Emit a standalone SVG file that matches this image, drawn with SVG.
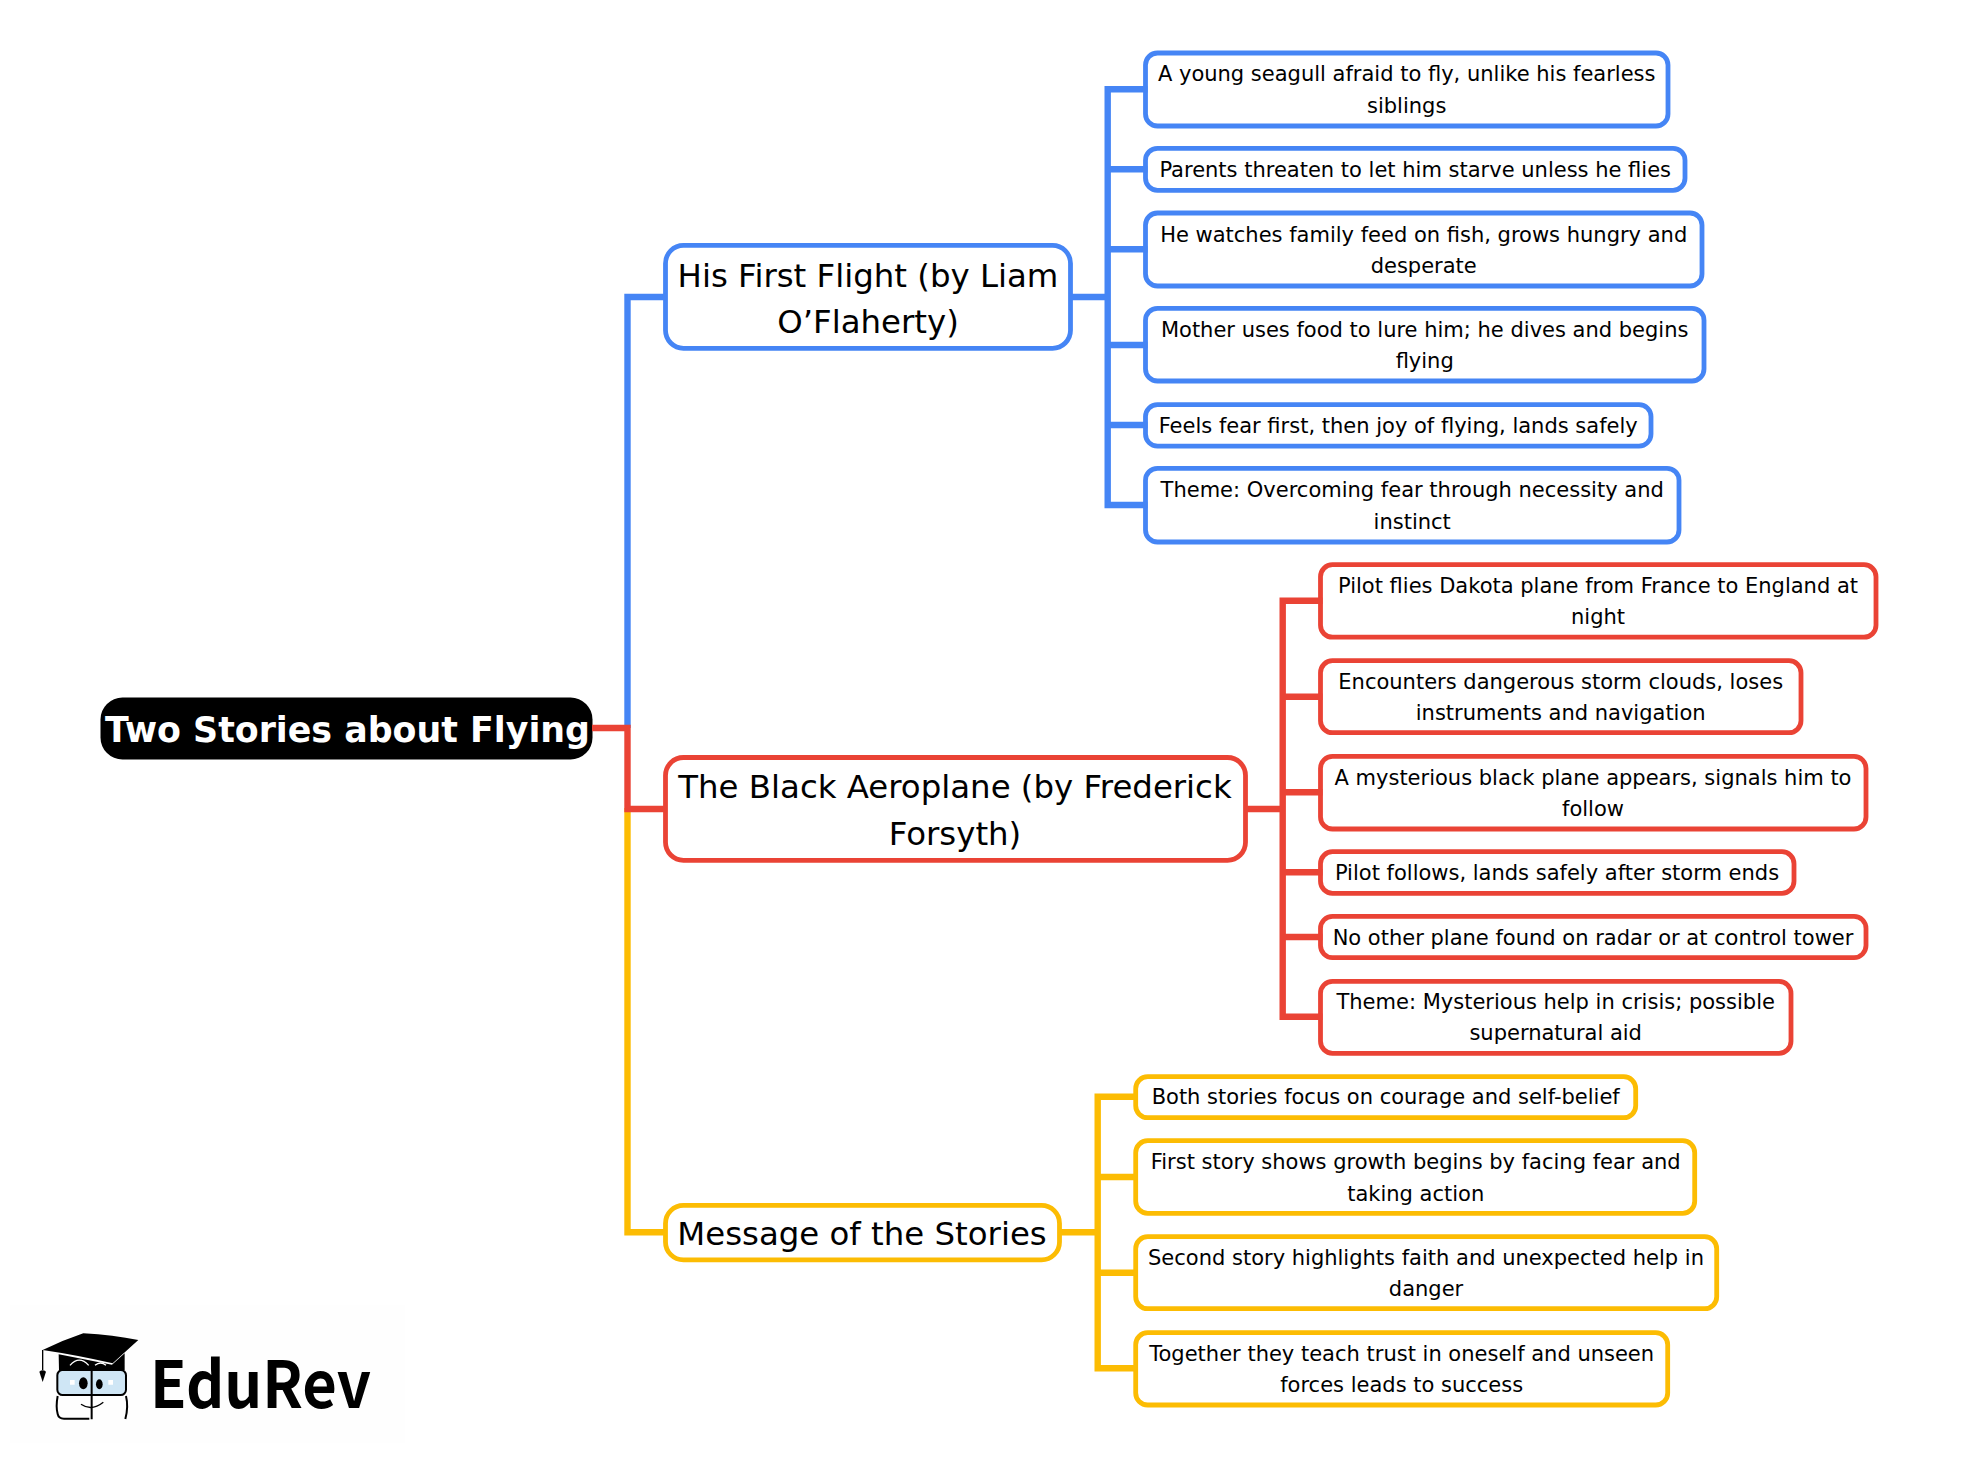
<svg xmlns="http://www.w3.org/2000/svg" width="1979" height="1458" viewBox="0 0 1979 1458">
<style>
text{font-family:"DejaVu Sans",sans-serif;fill:#000;text-anchor:middle}
.l{font-size:21px}.b{font-size:32.4px}
.r{font-size:34.8px;font-weight:700;fill:#fff}
rect.n{fill:#fff;stroke-width:4.8}
.bl{stroke:#4585f5}.re{stroke:#ea4335}.ye{stroke:#fcbc03}
#connectors path{fill:none;stroke-width:6.4}
</style>
<rect width="1979" height="1458" fill="#fff"/>
<g id="root"><rect x="100.500" y="697.500" width="492" height="62" rx="22" fill="#000"/><text class="r" x="347.500" y="742">Two Stories about Flying</text></g>
<g id="b1"><rect class="n bl" x="665.500" y="245.400" width="405" height="102.900" rx="18"/><text class="b" x="868" y="286.500">His First Flight (by Liam</text><text class="b" x="868" y="332.500">O’Flaherty)</text></g>
<g id="b2"><rect class="n re" x="665.500" y="757.500" width="580" height="102.800" rx="18"/><text class="b" x="955" y="797.500">The Black Aeroplane (by Frederick</text><text class="b" x="955" y="844.500">Forsyth)</text></g>
<g id="b3"><rect class="n ye" x="665.500" y="1205.400" width="394" height="54.500" rx="18"/><text class="b" x="862" y="1245">Message of the Stories</text></g>

<g id="n1"><rect class="n bl" x="1145.500" y="53" width="522.500" height="73" rx="12"/><text class="l" x="1406.700" y="81">A young seagull afraid to fly, unlike his fearless</text><text class="l" x="1406.700" y="113">siblings</text></g>
<g id="n2"><rect class="n bl" x="1145.500" y="148.300" width="539.500" height="42" rx="12"/><text class="l" x="1415.200" y="177">Parents threaten to let him starve unless he flies</text></g>
<g id="n3"><rect class="n bl" x="1145.500" y="213" width="556.500" height="73" rx="12"/><text class="l" x="1423.700" y="242">He watches family feed on fish, grows hungry and</text><text class="l" x="1423.700" y="273">desperate</text></g>
<g id="n4"><rect class="n bl" x="1145.500" y="308.300" width="558.500" height="72.700" rx="12"/><text class="l" x="1424.700" y="337">Mother uses food to lure him; he dives and begins</text><text class="l" x="1424.700" y="368">flying</text></g>
<g id="n5"><rect class="n bl" x="1145.500" y="404.600" width="505.500" height="41.500" rx="12"/><text class="l" x="1398.200" y="433">Feels fear first, then joy of flying, lands safely</text></g>
<g id="n6"><rect class="n bl" x="1145.500" y="468.300" width="533.500" height="73.700" rx="12"/><text class="l" x="1412.200" y="497">Theme: Overcoming fear through necessity and</text><text class="l" x="1412.200" y="529">instinct</text></g>

<g id="n7"><rect class="n re" x="1320.500" y="564.700" width="555.500" height="72.500" rx="12"/><text class="l" x="1598" y="593">Pilot flies Dakota plane from France to England at</text><text class="l" x="1598" y="624">night</text></g>
<g id="n8"><rect class="n re" x="1320.500" y="660.700" width="480.500" height="72" rx="12"/><text class="l" x="1560.700" y="689">Encounters dangerous storm clouds, loses</text><text class="l" x="1560.700" y="720">instruments and navigation</text></g>
<g id="n9"><rect class="n re" x="1320.500" y="756.400" width="545.500" height="72.600" rx="12"/><text class="l" x="1593" y="785">A mysterious black plane appears, signals him to</text><text class="l" x="1593" y="816">follow</text></g>
<g id="n10"><rect class="n re" x="1320.500" y="851.700" width="473.500" height="41.600" rx="12"/><text class="l" x="1557" y="880">Pilot follows, lands safely after storm ends</text></g>
<g id="n11"><rect class="n re" x="1320.500" y="916.400" width="545.500" height="41.200" rx="12"/><text class="l" x="1593" y="944.500">No other plane found on radar or at control tower</text></g>
<g id="n12"><rect class="n re" x="1320.500" y="981.400" width="470.500" height="71.900" rx="12"/><text class="l" x="1555.700" y="1009">Theme: Mysterious help in crisis; possible</text><text class="l" x="1555.700" y="1040">supernatural aid</text></g>

<g id="n13"><rect class="n ye" x="1135.700" y="1076.700" width="500" height="41" rx="12"/><text class="l" x="1385.700" y="1104">Both stories focus on courage and self-belief</text></g>
<g id="n14"><rect class="n ye" x="1135.700" y="1140.700" width="559" height="72.600" rx="12"/><text class="l" x="1415.700" y="1169">First story shows growth begins by facing fear and</text><text class="l" x="1415.700" y="1201">taking action</text></g>
<g id="n15"><rect class="n ye" x="1135.700" y="1236.700" width="581" height="72" rx="12"/><text class="l" x="1426" y="1265">Second story highlights faith and unexpected help in</text><text class="l" x="1426" y="1296">danger</text></g>
<g id="n16"><rect class="n ye" x="1135.700" y="1332.700" width="532" height="72.300" rx="12"/><text class="l" x="1401.700" y="1361">Together they teach trust in oneself and unseen</text><text class="l" x="1401.700" y="1392">forces leads to success</text></g>

<g id="connectors">
<path class="bl" d="M627.500 728V297H667"/>
<path class="ye" d="M627.500 808V1232.300H667"/>
<path class="re" d="M592 728H627.500V809H667"/>
<path class="bl" d="M1069 297H1107.700M1147.500 89.300H1107.700V505H1147.500M1107.700 169.300H1147.500M1107.700 249.300H1147.500M1107.700 345H1147.500M1107.700 425H1147.500"/>
<path class="re" d="M1244 809H1282.700M1322.500 600.700H1282.700V1016.700H1322.500M1282.700 696.700H1322.500M1282.700 792.300H1322.500M1282.700 872.300H1322.500M1282.700 937H1322.500"/>
<path class="ye" d="M1058 1232.300H1097.700M1137.700 1096.700H1097.700V1368.300H1137.700M1097.700 1177H1137.700M1097.700 1272.700H1137.700"/>
</g>

<g id="logo">
<rect x="10" y="1305" width="395" height="138" fill="#fefefe"/>
<g transform="translate(20 1320) scale(.3333)">
<path d="M68 90Q130 60 190 40Q280 45 355 60L278 130Q170 105 68 90Z" fill="#000"/>
<path d="M116 103 276 134 314 100V150H117Z" fill="#000"/>
<path d="M150 136Q178 105 206 136M225 136Q242 122 258 136" stroke="#fff" stroke-width="4" fill="none"/>
<path d="M68 90V150" stroke="#000" stroke-width="4" fill="none"/>
<path d="M58 155Q68 147 78 155L68 186Z" fill="#000"/>
<rect x="112" y="150" width="206" height="75" rx="16" fill="#cfe6f5" stroke="#000" stroke-width="6"/>
<path d="M113 228Q107 260 113 282Q116 296 132 296H208M318 228Q326 260 316 297M215 142V298" stroke="#000" stroke-width="6" fill="none"/>
<ellipse cx="190" cy="190" rx="13" ry="18"/><ellipse cx="238" cy="193" rx="10" ry="15"/>
<path d="M183 253Q215 275 250 247" stroke="#000" stroke-width="4" fill="none"/>
<path d="M150 180h14v14h-14zM265 180h14v14h-14z" fill="#fff"/>
</g>
<text x="150" y="1408" textLength="221" lengthAdjust="spacingAndGlyphs" style="font-family:'Noto Sans CJK SC',sans-serif;font-size:65px;font-weight:700;text-anchor:start">EduRev</text>
</g>
</svg>
